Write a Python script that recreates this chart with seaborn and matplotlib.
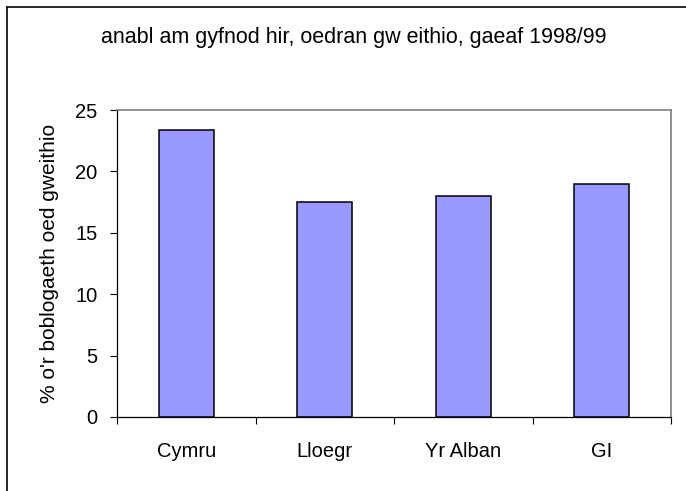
import matplotlib
matplotlib.use("Agg")
import matplotlib.pyplot as plt
import seaborn as sns
from matplotlib.lines import Line2D
from matplotlib.ticker import FixedLocator, NullFormatter

categories = ["Cymru", "Lloegr", "Yr Alban", "GI"]
values = [23.4, 17.5, 18.0, 19.0]
yticks = [0, 5, 10, 15, 20, 25]
title = "anabl am gyfnod hir, oedran gw eithio, gaeaf 1998/99"
ylabel = "% o'r boblogaeth oed gweithio"

sns.set_theme(style="white")
plt.rcParams["font.family"] = ["Liberation Sans", "DejaVu Sans"]

W, H = 686, 491
fig = plt.figure(figsize=(W / 100, H / 100), dpi=100)
ax = fig.add_axes([117 / W, 1 - 417 / H, (671 - 117) / W, (417 - 110) / H])

sns.barplot(x=categories, y=values, color="#9999FF", saturation=1, width=0.4,
            edgecolor="black", linewidth=1.1, ax=ax)

ax.set_ylim(0, 25)
ax.set_xlim(-0.5, len(categories) - 0.5)
ax.set_yticks(yticks)
ax.set_yticklabels([str(t) for t in yticks], fontsize=14.5, color="black")
ax.set_xticks(range(len(categories)))
ax.set_xticklabels(categories, fontsize=14.5, color="black")
ax.tick_params(axis="x", which="major", length=0, pad=18)
ax.xaxis.set_minor_locator(FixedLocator([i - 0.5 for i in range(len(categories) + 1)]))
ax.xaxis.set_minor_formatter(NullFormatter())
ax.tick_params(axis="x", which="minor", length=5, width=0.8, color="black", direction="out", bottom=True)
ax.tick_params(axis="y", length=5, width=0.8, color="black", direction="out", left=True, pad=9)
ax.set_xlabel("")
ax.set_ylabel(ylabel, fontsize=15, color="black", labelpad=12)

for s in ["left", "bottom"]:
    ax.spines[s].set_color("black")
    ax.spines[s].set_linewidth(0.9)
for s in ["top", "right"]:
    ax.spines[s].set_visible(True)
    ax.spines[s].set_color("#808080")
    ax.spines[s].set_linewidth(1.2)
ax.grid(False)

fig.text(354 / W, 1 - 43 / H, title, ha="center", va="baseline", fontsize=15.5, color="black")

# outer chart border (left and top visible)
fig.add_artist(Line2D([6.5 / W, 6.5 / W], [0, 1 - 7 / H], transform=fig.transFigure, color="black", lw=1.2))
fig.add_artist(Line2D([6.5 / W, 1], [1 - 7 / H, 1 - 7 / H], transform=fig.transFigure, color="black", lw=1.2))

fig.savefig("out.png", dpi=100, facecolor="white")
